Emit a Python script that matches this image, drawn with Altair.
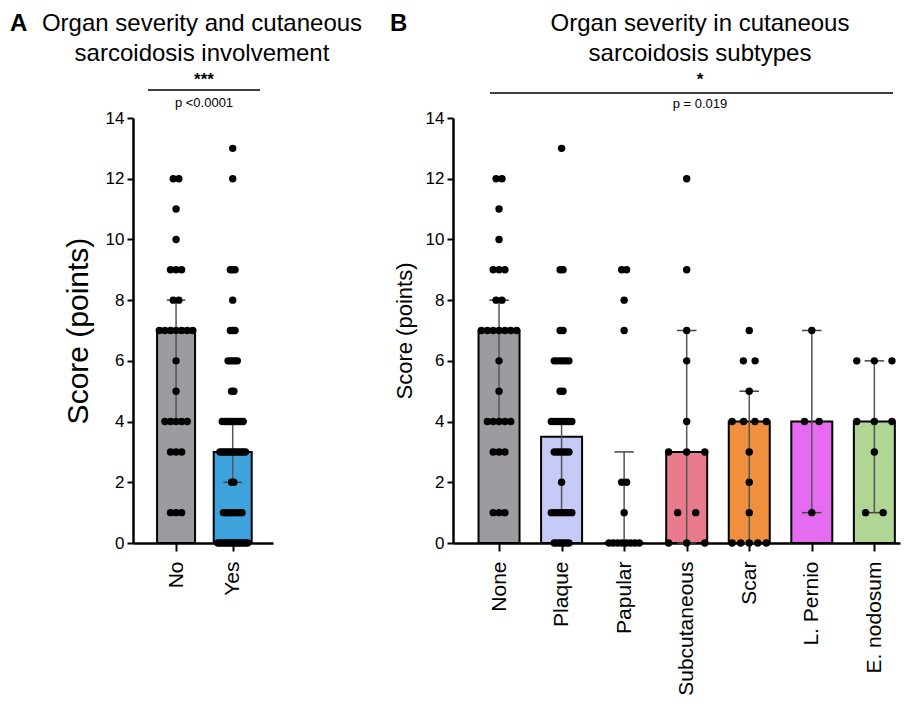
import altair as alt
import pandas as pd

FONT = "Liberation Sans"

# ---------------- data ----------------
groups_a = ["No", "Yes"]
groups_b = ["None", "Plaque", "Papular", "Subcutaneous", "Scar", "L. Pernio", "E. nodosum"]

scores_none = [12, 12, 11, 10, 9, 9, 9, 8, 8, 7, 7, 7, 7, 7, 7, 7, 6, 5,
               4, 4, 4, 4, 4, 3, 3, 3, 1, 1, 1]
scores_yes = [13, 12, 9, 9, 9, 8, 7, 7, 7, 6, 6, 6, 6, 6, 5, 5,
              4, 4, 4, 4, 4, 4, 4, 4, 4, 4,
              3, 3, 3, 3, 3, 3, 3, 3, 3, 3, 3, 3,
              2, 2,
              1, 1, 1, 1, 1, 1, 1, 1, 1,
              0, 0, 0, 0, 0, 0, 0, 0, 0, 0, 0, 0, 0, 0]
scores_plaque = [13, 9, 9, 7, 7, 6, 6, 6, 6, 6, 6, 5, 5,
                 4, 4, 4, 4, 4, 4, 4, 4, 3, 3, 3, 3, 3, 3, 2,
                 1, 1, 1, 1, 1, 1, 1, 1, 0, 0, 0, 0, 0, 0]
scores_papular = [9, 9, 8, 7, 2, 2, 1, 0, 0, 0, 0, 0, 0, 0, 0]
scores_subcut = [12, 9, 7, 6, 4, 3, 3, 3, 1, 1, 0, 0, 0]
scores_scar = [7, 6, 6, 5, 4, 4, 4, 4, 3, 2, 1, 0, 0, 0, 0, 0]
scores_pernio = [7, 4, 4, 1]
scores_nodosum = [6, 6, 6, 4, 4, 4, 3, 1, 1]

bar_a = [7, 3]
err_low_a = [4, 2]
err_high_a = [8, 4]

bar_b = [7, 3.5, 0, 3, 4, 4, 4]
err_low_b = [4, 1, 0, 0, 0, 1, 1]
err_high_b = [8, 4, 3, 7, 5, 7, 6]

colors_a = ["#9d9ba0", "#3ea3dd"]
colors_b = ["#9d9ba0", "#c6caf7", "#d8d8d8", "#e97b8c", "#f0903e", "#e56cf1", "#afd694"]

# ---------------- style ----------------
# dot packing (pixels): max gap between neighbours, max total spread
gap_a = [6, 2.5]
span_a = [36, 32]
gap_b = [6, 3, 5, 18.5, 12, 15, 18]
span_b = [36, 24, 31, 37, 35, 36, 36]


def swarm(score_lists, gaps, spans, ppu):
    rows = []
    for gi, vals in enumerate(score_lists):
        counts = {}
        for v in vals:
            counts[v] = counts.get(v, 0) + 1
        for v, n in counts.items():
            step = gaps[gi] if n <= 1 else min(gaps[gi], spans[gi] / (n - 1))
            for i in range(n):
                off = (i - (n - 1) / 2) * step / ppu
                rows.append({"g": gi, "score": v, "xpos": gi + off})
    return pd.DataFrame(rows)


def panel(groups, score_lists, bars, lo, hi, colors, gaps, spans, width, dom,
          bar_size, ytitle_size, ytitle_pad, title_lines, title_x, letter, letter_x,
          stars, ptext, line_x, line_x2, line_y, ann_x, p_y):
    height = 425
    ppu = width / (dom[1] - dom[0])
    cap = 10 / ppu
    summary = pd.DataFrame({
        "g": list(range(len(groups))),
        "name": groups,
        "h": bars,
        "lo": lo,
        "hi": hi,
    })
    summary["cl"] = summary["g"] - cap
    summary["cr"] = summary["g"] + cap
    dots = swarm(score_lists, gaps, spans, ppu)

    label_expr = "[" + ",".join("'" + g + "'" for g in groups) + "][datum.value]"
    xs = alt.Scale(domain=dom, nice=False, zero=False)
    ys = alt.Scale(domain=[0, 14], nice=False)
    xaxis = alt.Axis(values=list(range(len(groups))), labelExpr=label_expr, labelAngle=-90,
                     labelFontSize=21, labelColor="black", labelPadding=10, labelFlush=False,
                     labelOverlap=False, labelBound=False,
                     tickSize=8, tickWidth=2, tickColor="black",
                     domainWidth=2.5, domainColor="black", grid=False, title=None)
    yaxis = alt.Axis(values=list(range(15)),
                     labelExpr="datum.value % 2 == 0 ? datum.label : ''",
                     labelFontSize=17, labelColor="black", labelPadding=3, labelOverlap=False,
                     tickSize=6, tickWidth=2, tickColor="black",
                     domainWidth=2.5, domainColor="black", grid=False,
                     title="Score (points)", titleFontSize=ytitle_size, titleFontWeight="normal",
                     titleColor="black", titlePadding=ytitle_pad)

    base = alt.Chart(summary)
    bars_l = base.mark_bar(size=bar_size, stroke="black", strokeWidth=2, orient="vertical").encode(
        x=alt.X("g:Q", scale=xs, axis=xaxis),
        y=alt.Y("h:Q", scale=ys, axis=yaxis),
        y2=alt.datum(0),
        color=alt.Color("name:N", scale=alt.Scale(domain=groups, range=colors), legend=None),
    )
    err = base.mark_rule(color="#555555", strokeWidth=1.5).encode(
        x="g:Q", y="lo:Q", y2="hi:Q")
    cap_lo = base.mark_rule(color="#444444", strokeWidth=1.5).encode(
        x="cl:Q", x2="cr:Q", y="lo:Q")
    cap_hi = base.mark_rule(color="#444444", strokeWidth=1.5).encode(
        x="cl:Q", x2="cr:Q", y="hi:Q")
    pts = alt.Chart(dots).mark_circle(size=55, color="black", opacity=1).encode(
        x="xpos:Q", y="score:Q")

    t1 = alt.Chart(pd.DataFrame({"t": [title_lines[0]]})).mark_text(
        fontSize=24, color="black", align="center", baseline="alphabetic").encode(
        text="t:N", x=alt.value(title_x), y=alt.value(-87))
    t2 = alt.Chart(pd.DataFrame({"t": [title_lines[1]]})).mark_text(
        fontSize=24, color="black", align="center", baseline="alphabetic").encode(
        text="t:N", x=alt.value(title_x), y=alt.value(-57))
    let = alt.Chart(pd.DataFrame({"t": [letter]})).mark_text(
        fontSize=24, fontWeight="bold", color="black", align="left", baseline="alphabetic").encode(
        text="t:N", x=alt.value(letter_x), y=alt.value(-87))
    st = alt.Chart(pd.DataFrame({"t": [stars]})).mark_text(
        fontSize=17, fontWeight="bold", color="black", align="center", baseline="middle").encode(
        text="t:N", x=alt.value(ann_x), y=alt.value(-38))
    pl = alt.Chart(pd.DataFrame({"t": [ptext]})).mark_text(
        fontSize=13, color="black", align="center", baseline="middle").encode(
        text="t:N", x=alt.value(ann_x), y=alt.value(p_y))
    sig = alt.Chart(pd.DataFrame({"t": [stars]})).mark_rule(color="black", strokeWidth=1.5).encode(
        x=alt.value(line_x), x2=alt.value(line_x2), y=alt.value(line_y))

    return alt.layer(bars_l, err, cap_lo, cap_hi, pts, t1, t2, let, st, pl, sig).properties(
        width=width, height=height)


chart_a = panel(groups_a, [scores_none, scores_yes], bar_a, err_low_a, err_high_a, colors_a,
                gap_a, span_a, 140, [-0.672, 1.623], 38, 30, 12,
                ["Organ severity and cutaneous", "sarcoidosis involvement"], 69, "A", -123,
                "***", "p <0.0001", 15, 127, -28, 71, -15)

chart_b = panel(groups_b,
                [scores_none, scores_plaque, scores_papular, scores_subcut, scores_scar,
                 scores_pernio, scores_nodosum],
                bar_b, err_low_b, err_high_b, colors_b,
                gap_b, span_b, 447, [-0.656, 6.33], 41, 22, 9,
                ["Organ severity in cutaneous", "sarcoidosis subtypes"], 247, "B", -63,
                "*", "p = 0.019", 37, 440, -25, 247, -14)

chart = alt.hconcat(chart_a, chart_b, spacing=180, bounds="flush").resolve_scale(
    color="independent").properties(
    padding={"left": 2, "top": 4, "right": 2, "bottom": 0}
).configure(font=FONT).configure_view(stroke=None)

chart.save("out.html", embed_options={"renderer": "svg", "actions": False})
